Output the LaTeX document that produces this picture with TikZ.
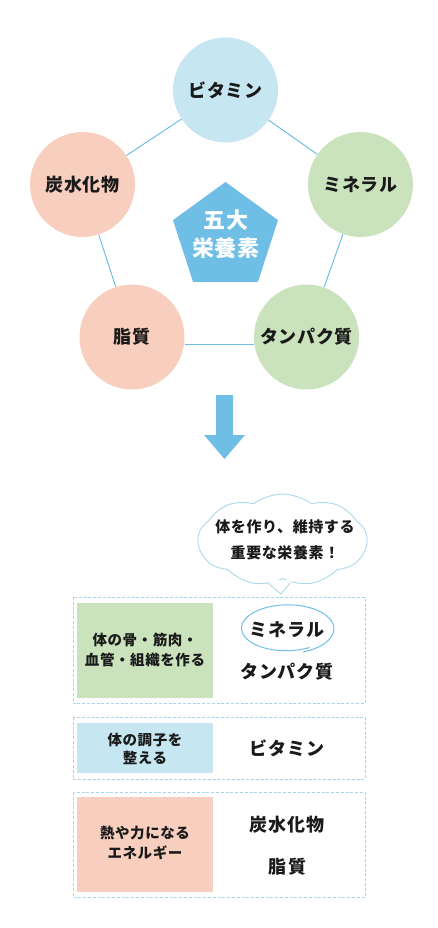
\documentclass[tikz,border=0pt]{standalone}
\usepackage{fontspec}
\setmainfont{Noto Sans CJK JP}[LetterSpace=4]
\usetikzlibrary{shapes.geometric,shapes.symbols}
\definecolor{lineblue}{HTML}{6FBEE6}
\definecolor{cblue}{HTML}{C6E6F1}
\definecolor{cpink}{HTML}{F8CEBE}
\definecolor{cgreen}{HTML}{CAE3BD}
\definecolor{dashblue}{HTML}{A6D6EC}
\definecolor{bubble}{HTML}{AED8EA}
\definecolor{ink}{HTML}{1A1A1A}
\begin{document}
\begin{tikzpicture}[x=1pt,y=-1pt,
  nut/.style={circle, minimum size=105pt, inner sep=0pt, text=ink, font=\bfseries\fontsize{18}{20}\selectfont},
  lbl/.style={text=ink, inner sep=0pt, font=\bfseries\fontsize{18}{20}\selectfont},
  boxtxt/.style={text=ink, align=center, inner sep=0pt, font=\bfseries\fontsize{14.5}{20}\selectfont},
  dbox/.style={draw=dashblue, dash pattern=on 3pt off 1.8pt, line width=0.8pt},
  link/.style={draw=lineblue, line width=1pt}]
\useasboundingbox (0,0) rectangle (437,928);

% pentagon of five nutrients
\node[nut, fill=cblue]  (vit)  at (225.5,90)   {ビタミン};
\node[nut, fill=cpink]  (carb) at (82.5,184.5) {炭水化物};
\node[nut, fill=cgreen] (min)  at (360.5,184.5){ミネラル};
\node[nut, fill=cpink]  (fat)  at (132,337)    {脂\hspace{2pt}質};
\node[nut, fill=cgreen] (pro)  at (306.5,337)  {タンパク質};

\draw[link] (vit) -- (carb);
\draw[link] (vit) -- (min);
\draw[link] (carb) -- (fat);
\draw[link] (min) -- (pro);
\draw[link] ([yshift=-7pt]fat.east) -- ([yshift=-7pt]pro.west);

\node[regular polygon, regular polygon sides=5, minimum size=110.4pt, inner sep=0pt, fill=lineblue] (core) at (225.5,237.2) {};
\node[text=white, align=center, inner sep=0pt, font=\bfseries\fontsize{22}{28}\selectfont] (coretxt) at (226,234) {五大\\栄養素};

% arrow
\fill[lineblue] (216,395) -- (233,395) -- (233,435) -- (245,435) -- (224.5,459) -- (204,435) -- (216,435) -- cycle;

% speech bubble
\node[cloud, cloud puffs=9, cloud puff arc=75, cloud ignores aspect, minimum width=169pt, minimum height=92pt, inner sep=0pt, draw=bubble, fill=white, line width=0.9pt] (bub) at (282.5,540) {};
\fill[white] (266,580) -- (281,594) -- (292,580) -- cycle;
\draw[bubble, line width=0.9pt, line join=round] (268,583) -- (281,594) -- (290,583);
\node[boxtxt, font=\bfseries\fontsize{15}{26}\selectfont] (bubtxt) at (285,540) {体を作り、維持する\\重要な栄養素！};

% box 1
\draw[dbox] (73,597) rectangle (365,703);
\fill[cgreen] (77,603) rectangle (213,698);
\node[boxtxt] (t1) at (145,650) {体の骨・筋肉・\\血管・組織を作る};
\node[lbl] (r1a) at (287,630) {ミネラル};
\node[lbl] (r1b) at (287,672) {タンパク質};
\draw[lineblue, line width=1pt, line cap=round] plot[smooth, domain=60:430, samples=70] ({287+(44.5+0.008*(\x-60))*cos(\x)}, {628.5+(22+0.008*(\x-60))*sin(\x)});

% box 2
\draw[dbox] (73,717) rectangle (365,779);
\fill[cblue] (77,723) rectangle (213,773);
\node[boxtxt, font=\bfseries\fontsize{14.5}{18}\selectfont] (t2) at (145,749) {体の調子を\\整える};
\node[lbl] (r2) at (287,748) {ビタミン};

% box 3
\draw[dbox] (73,792) rectangle (365,897);
\fill[cpink] (77,797) rectangle (213,892);
\node[boxtxt] (t3) at (145,843) {熱や力になる\\エネルギー};
\node[lbl] (r3a) at (287,825) {炭水化物};
\node[lbl] (r3b) at (287,867) {脂\hspace{2pt}質};
\end{tikzpicture}
\end{document}
